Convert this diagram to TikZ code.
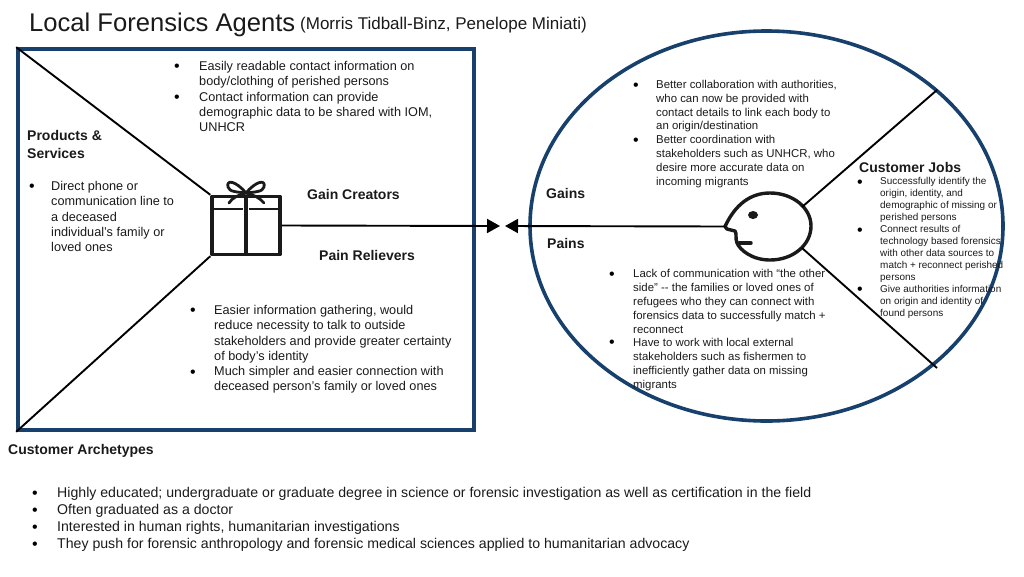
\documentclass[tikz,border=0pt]{standalone}
\usepackage{fontspec}
\setmainfont{Liberation Sans}
\usetikzlibrary{shapes.geometric,arrows.meta}
\definecolor{navy}{HTML}{17406D}
\definecolor{ink}{HTML}{1A1A1A}
\tikzset{
 frame/.style={draw=navy,line width=3.6pt},
 conn/.style={draw=black,line width=1.9pt},
 iconln/.style={draw=ink,line width=3.4pt,line join=round,line cap=round},
 head/.style={-{Triangle[length=13pt,width=14pt]},draw=black,line width=1.9pt},
 txt/.style={anchor=north west,inner sep=0pt,align=left,text=ink},
 bt/.style={font=\bfseries\fontsize{14}{17}\selectfont,anchor=west,inner sep=0pt,text=ink},
 bl/.style={anchor=center,inner sep=0pt,text=black,font=\fontsize{16}{16}\selectfont,yshift=-1.5pt},
 fa/.style={txt,font=\fontsize{12.7}{15.3}\selectfont},
 fb/.style={txt,font=\fontsize{11.4}{13.8}\selectfont},
 fc/.style={txt,font=\fontsize{9.95}{11.95}\selectfont},
 fd/.style={txt,font=\fontsize{14.13}{17}\selectfont},
}
\begin{document}
\begin{tikzpicture}[x=1pt,y=-1pt]
\useasboundingbox (0,0) rectangle (1024,576);
% title
\node[anchor=west,inner sep=0pt,text=ink] (title) at (29,25) {\fontsize{25.6}{30}\selectfont Local Forensics Agents};
\node[anchor=west,inner sep=0pt,text=ink] (authors) at (300,25) {\fontsize{17}{20}\selectfont (Morris Tidball-Binz, Penelope Miniati)};
% frames
\node[frame,rectangle,minimum width=456pt,minimum height=381pt,inner sep=0pt] (vp) at (246,239.5) {};
\node[frame,ellipse,minimum width=473pt,minimum height=390pt,inner sep=0pt] (cp) at (766.5,226) {};
% gift
\node[iconln,rectangle,minimum width=68pt,minimum height=58pt,inner sep=0pt] (gift) at (246,225.5) {};
\draw[iconln,line width=2.8pt,line cap=butt] (213,209) -- (243,209) (249,209) -- (279,209);
\draw[iconln,line width=3.2pt,line cap=butt] (246,197) -- (246,254);
\draw[iconln,line width=2.8pt] (246,193) .. controls (236,181) and (226,179) .. (228,187) .. controls (229,192) and (238,192) .. (246,193)
 .. controls (256,181) and (266,179) .. (264,187) .. controls (263,192) and (254,192) .. (246,193);
\draw[iconln,line width=2.8pt] (246,193) .. controls (238,195) and (232,198) .. (229,203) (246,193) .. controls (254,195) and (260,198) .. (264,203);
% face
\coordinate (nose) at (725,226.5);
\coordinate (faceUp) at (802,207);
\coordinate (faceDn) at (802,248);
\draw[iconln] (nose) .. controls (735,205) and (750,193) .. (770,193) .. controls (793,193) and (811,208) .. (811,226)
 .. controls (811,245) and (793,260) .. (770,260) .. controls (752,260) and (740,250) .. (737,243) .. controls (735,238) and (737,233) .. (735,231) -- (727,229) -- (nose);
\draw[iconln] (739,243) -- (751,243);
\fill[ink] (753,215) ellipse (5pt and 4pt);
% connectors
\coordinate (jobUp) at (937,90);
\coordinate (jobDn) at (937,368);
\coordinate (tipL) at (500,226);
\coordinate (tipR) at (505,226);
\draw[conn] (vp.north west) -- (gift.north west);
\draw[conn] (vp.south west) -- (gift.south west);
\draw[conn] (faceUp) -- (jobUp);
\draw[conn] (faceDn) -- (jobDn);
\draw[head] (gift.east) -- (tipL);
\draw[head] (nose) -- (tipR);
% left labels
\node[bt,align=left] (ps) at (27,144.5) {Products \&\\[0.4pt]Services};
\node[bt] (gc) at (307,194) {Gain Creators};
\node[bt] (pr) at (319,255) {Pain Relievers};
\node[bt] (ca) at (8,451) {Customer Archetypes};
\node[bt] (ga) at (546,193) {Gains};
\node[bt] (pa) at (547,243) {Pains};
\node[bt] (cj) at (859,167.5) {Customer Jobs};
% top-left block
\node[bl] at (177,66) {\textbullet};
\node[bl] at (177,97) {\textbullet};
\node[fa] (t1) at (199,61) {Easily readable contact information on\\body/clothing of perished persons\\Contact information can provide\\demographic data to be shared with IOM,\\UNHCR};
% left block
\node[bl] at (32,186) {\textbullet};
\node[fa] (t2) at (51,181) {Direct phone or\\communication line to\\a deceased\\individual’s family or\\loved ones};
% lower block
\node[bl] at (193,310) {\textbullet};
\node[bl] at (193,372) {\textbullet};
\node[fa] (t3) at (214,305) {Easier information gathering, would\\reduce necessity to talk to outside\\stakeholders and provide greater certainty\\of body’s identity\\Much simpler and easier connection with\\deceased person’s family or loved ones};
% gains
\node[bl] at (636,85) {\textbullet};
\node[bl] at (636,140) {\textbullet};
\node[fb] (t4) at (656,80) {Better collaboration with authorities,\\who can now be provided with\\contact details to link each body to\\an origin/destination\\Better coordination with\\stakeholders such as UNHCR, who\\desire more accurate data on\\incoming migrants};
% pains
\node[bl] at (612,274) {\textbullet};
\node[bl] at (612,342) {\textbullet};
\node[fb] (t5) at (633,269.5) {Lack of communication with “the other\\side” -{}- the families or loved ones of\\refugees who they can connect with\\forensics data to successfully match +\\reconnect\\Have to work with local external\\stakeholders such as fishermen to\\inefficiently gather data on missing\\migrants};
% jobs
\node[bl] at (860,182) {\textbullet};
\node[bl] at (860,230) {\textbullet};
\node[bl] at (860,289) {\textbullet};
\node[fc] (t6) at (880,177.5) {Successfully identify the\\origin, identity, and\\demographic of missing or\\perished persons\\Connect results of\\technology based forensics\\with other data sources to\\match + reconnect perished\\persons\\Give authorities information\\on origin and identity of\\found persons};
% bottom
\node[bl] at (35,493) {\textbullet};
\node[bl] at (35,510) {\textbullet};
\node[bl] at (35,527) {\textbullet};
\node[bl] at (35,544) {\textbullet};
\node[fd] (t7) at (57,487) {Highly educated; undergraduate or graduate degree in science or forensic investigation as well as certification in the field\\Often graduated as a doctor\\Interested in human rights, humanitarian investigations\\They push for forensic anthropology and forensic medical sciences applied to humanitarian advocacy};
\end{tikzpicture}
\end{document}
